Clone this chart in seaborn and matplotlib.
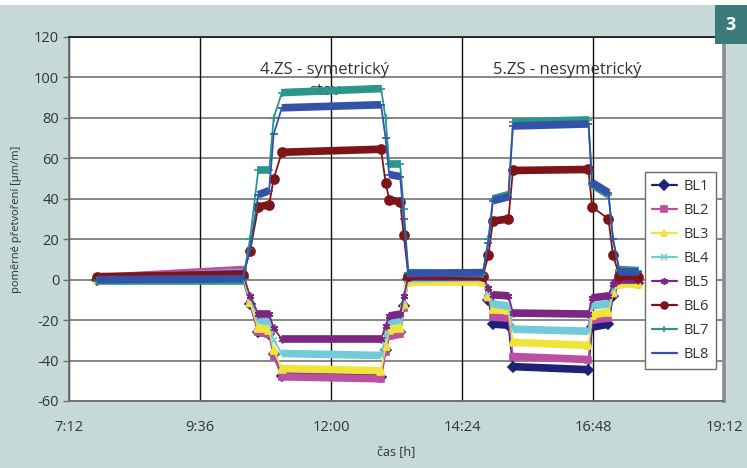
import matplotlib
matplotlib.use("Agg")
import matplotlib.pyplot as plt
from matplotlib.lines import Line2D
from matplotlib.patches import Rectangle
import seaborn as sns
import pandas as pd

# Measurement instants (hh:mm) shared by all gauges
times = ["7:43", "10:23", "10:31", "10:40", "10:52", "10:57", "11:06",
         "12:55", "13:00", "13:04", "13:16", "13:20", "13:25",
         "14:47", "14:53", "14:58", "15:15", "15:20", "16:43",
         "16:47", "17:05", "17:10", "17:17", "17:38"]

# Relative strain [µm/m] for each strain gauge
bl1 = [0, 1, -12, -26, -27, -37, -47.5, -48, -35, -27, -26, -13, 0.5,
       1, -10, -22, -22.5, -43, -44.5, -23.5, -22, -8, -1.5, -1.5]
bl2 = [1, 5, -12, -26, -27, -38, -48, -49, -36, -28, -27, -14, 0,
       0.5, -9, -18.5, -19, -38, -39.5, -20, -19, -7, -1, -1]
bl3 = [0.5, 2, -11, -24, -25, -35, -44, -45, -33, -25, -24, -12, -1,
       -1, -8, -14.5, -15, -31, -32.5, -17.5, -16, -6, -2, -2]
bl4 = [0.5, 3.5, -9, -20, -21, -30, -36.5, -37.5, -28, -21, -20, -10, 0.5,
       1, -6, -12, -13, -24.5, -25.5, -13, -12, -4, 1, 1]
bl5 = [1, 3, -8, -17, -17, -24, -29.5, -29.5, -23, -18, -17, -8, 1.5,
       1.5, -4, -7.5, -8, -16.5, -17, -9, -8, -2, 0, 0]
bl6 = [1.5, 2.5, 14, 36, 37, 50, 63, 64.5, 48, 39.5, 38.5, 22, 2,
       2, 12, 29, 30, 54, 54.5, 36, 30, 12, 2, 1.5]
bl7 = [-0.5, -0.5, 20, 54, 54, 80, 92.5, 94.5, 80, 57, 57, 35, 3.5,
       3, 20, 40, 42, 78, 79, 47, 42, 20, 5, 4.5]
bl8 = [0, 0.5, 15, 42, 44, 72, 85, 86.5, 70, 52, 51, 30, 3,
       3.5, 18, 39, 41, 76, 77, 48, 43, 20, 4, 4]

names = ["BL1", "BL2", "BL3", "BL4", "BL5", "BL6", "BL7", "BL8"]
series = [bl1, bl2, bl3, bl4, bl5, bl6, bl7, bl8]

x_ticks = [7.2, 9.6, 12.0, 14.4, 16.8, 19.2]
x_tick_labels = ["7:12", "9:36", "12:00", "14:24", "16:48", "19:12"]
y_ticks = list(range(-60, 121, 20))

colors = {"BL1": "#1f2178", "BL2": "#bb4fa2", "BL3": "#f0e43a", "BL4": "#72ccd8",
          "BL5": "#7a2682", "BL6": "#7f1416", "BL7": "#2b978c", "BL8": "#3352a8"}
markers = {"BL1": "D", "BL2": "s", "BL3": "^", "BL4": "x",
           "BL5": (6, 2, 0), "BL6": "o", "BL7": "+", "BL8": "_"}
msizes = {"BL1": 5, "BL2": 5, "BL3": 5.5, "BL4": 5, "BL5": 5.5, "BL6": 6.5,
          "BL7": 6, "BL8": 6}


def to_hours(s):
    h, m = s.split(":")
    return int(h) + int(m) / 60.0


hours = [to_hours(s) for s in times]
df = pd.DataFrame({
    "t": hours * len(names),
    "v": [v for s in series for v in s],
    "gauge": [n for n in names for _ in hours],
})

sns.set_theme(style="white")
plt.rcParams["font.family"] = ["Open Sans", "DejaVu Sans"]

W, H = 747, 468
fig = plt.figure(figsize=(W / 100, H / 100), dpi=100)
fig.patch.set_facecolor("#c6d9d9")
# white strip along the top edge
fig.add_artist(Rectangle((0, 1 - 5 / H), 1, 5 / H, transform=fig.transFigure,
                         facecolor="white", edgecolor="none", zorder=0))
# page number badge
fig.add_artist(Rectangle((715 / W, 1 - 44 / H), 32 / W, 39 / H, transform=fig.transFigure,
                         facecolor="#3b7b79", edgecolor="none", zorder=1))
fig.text(731 / W, 1 - 24.5 / H, "3", color="white", fontsize=13, fontweight="bold",
         ha="center", va="center")

ax = fig.add_axes([69 / W, 1 - 401 / H, 655 / W, 364 / H])
ax.set_facecolor("white")

for n in names:
    sub = df[df["gauge"] == n].reset_index(drop=True)
    sns.lineplot(data=sub, x="t", y="v", ax=ax, color=colors[n], marker=markers[n],
                 markersize=msizes[n], markeredgewidth=1.2, markeredgecolor=colors[n],
                 linewidth=1.3, sort=False, legend=False, zorder=3)
    # steady load holds are drawn as a dense band of readings
    for i in range(len(sub) - 1):
        t0, t1 = sub.loc[i, "t"], sub.loc[i + 1, "t"]
        v0, v1 = sub.loc[i, "v"], sub.loc[i + 1, "v"]
        if (t1 - t0) > 0.1 and abs(v1 - v0) / (t1 - t0) < 20:
            ax.plot([t0, t1], [v0, v1], color=colors[n], lw=5.5,
                    solid_capstyle="butt", zorder=3)

ax.set_xlim(x_ticks[0], x_ticks[-1])
ax.set_ylim(-60, 120)
ax.set_xticks(x_ticks)
ax.set_xticklabels(x_tick_labels)
ax.set_yticks(y_ticks)
ax.set_yticklabels([str(v) for v in y_ticks])

for v in y_ticks:
    ax.axhline(v, color="#7f7f7f", lw=1.3, zorder=1)
for t in x_ticks:
    ax.axvline(t, color="#111111", lw=1.0, zorder=1)

for side in ["left", "bottom"]:
    ax.spines[side].set_color("#6e6e6e")
    ax.spines[side].set_linewidth(1.3)
ax.spines["top"].set_color("#111111")
ax.spines["top"].set_linewidth(1.2)
ax.spines["right"].set_color("#8c8c8c")
ax.spines["right"].set_linewidth(2.6)

ax.tick_params(axis="y", which="both", left=True, length=4, width=1, color="#6e6e6e",
               labelsize=10.5, labelcolor="#333333", pad=3)
ax.tick_params(axis="x", which="both", bottom=False, labelsize=10.5,
               labelcolor="#333333", pad=8)

ax.set_xlabel("čas [h]", fontsize=9, color="#333333", labelpad=7)
ax.set_ylabel("poměrné přetvoření [µm/m]", fontsize=8, color="#333333", labelpad=9)

ax.text(0.390, 0.909, "4.ZS - symetrický", transform=ax.transAxes, fontsize=12,
        color="#333333", ha="center", va="center", zorder=2)
ax.text(0.390, 0.852, "stav", transform=ax.transAxes, fontsize=12,
        color="#333333", ha="center", va="center", zorder=2)
ax.text(0.760, 0.909, "5.ZS - nesymetrický", transform=ax.transAxes, fontsize=12,
        color="#333333", ha="center", va="center", zorder=2)

handles = [Line2D([0], [0], color=colors[n], lw=1.6, marker=markers[n], markersize=5,
                  markeredgecolor=colors[n], markeredgewidth=1.2) for n in names]
leg = ax.legend(handles, names, loc="upper right", bbox_to_anchor=(0.988, 0.628),
                fontsize=10.5, frameon=True, fancybox=False, framealpha=1,
                edgecolor="#6e6e6e", labelspacing=0.62, handlelength=1.7,
                handletextpad=0.5, borderpad=0.45, borderaxespad=0)
leg.get_frame().set_linewidth(1.0)
for txt in leg.get_texts():
    txt.set_color("#333333")
leg.set_zorder(5)

fig.savefig("out.png", dpi=100, facecolor=fig.get_facecolor())
